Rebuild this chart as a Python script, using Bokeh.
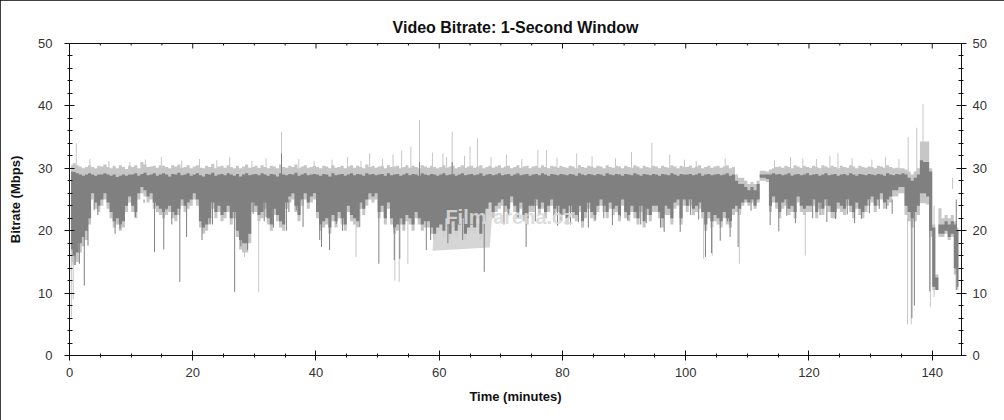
import numpy as np
from bokeh.plotting import figure
from bokeh.models import ColumnDataSource, LinearAxis, SingleIntervalTicker, Range1d, Label
from bokeh.embed import file_html
from bokeh.resources import INLINE

BIN_MIN = 0.5  # each value covers half a minute

# dark grey band (typical range of the 1-second bitrate), Mbps
dark_hi = [
    29.5, 29.4, 29.2, 29.0, 28.8, 29.0, 29.2, 29.0, 28.8, 29.0,
    29.0, 29.2, 29.0, 28.8, 29.0, 28.6, 28.8, 29.0, 28.8, 29.0,
    29.0, 29.2, 28.8, 29.1, 29.3, 28.9, 29.0, 29.2, 28.8, 29.0,
    29.2, 29.0, 28.7, 29.1, 29.0, 29.3, 28.9, 29.0, 29.2, 28.8,
    29.0, 29.2, 28.9, 28.7, 29.1, 29.0, 29.3, 28.8, 29.0, 29.1,
    28.9, 29.2, 29.0, 28.8, 29.1, 28.7, 29.0, 29.2, 28.9, 29.0,
    29.1, 28.9, 29.2, 29.0, 28.8, 29.1, 29.0, 28.7, 29.2, 29.0,
    28.9, 29.1, 29.0, 29.3, 28.8, 29.0, 29.2, 28.9, 29.0, 29.1,
    29.0, 28.8, 29.1, 29.0, 28.7, 29.2, 28.9, 29.0, 29.1, 28.8,
    29.0, 29.2, 28.9, 29.1, 29.0, 28.8, 29.2, 29.0, 29.1, 28.9,
    29.0, 29.1, 28.8, 29.2, 28.9, 29.0, 29.1, 28.8, 29.0, 29.2,
    28.9, 29.1, 29.0, 28.8, 29.2, 29.0, 28.9, 29.1, 29.0, 28.8,
    29.0, 29.2, 28.9, 29.0, 29.1, 28.8, 29.0, 29.2, 28.9, 29.0,
    29.1, 28.9, 29.0, 29.2, 28.8, 29.0, 29.1, 28.9, 29.0, 29.2,
    28.9, 29.0, 29.1, 28.8, 29.0, 29.2, 28.9, 29.0, 29.1, 28.8,
    29.0, 29.1, 28.9, 29.2, 29.0, 28.8, 29.1, 29.0, 28.9, 29.1,
    29.0, 28.9, 29.1, 29.0, 28.8, 29.2, 29.0, 28.9, 29.1, 29.0,
    28.9, 29.1, 29.0, 28.8, 29.2, 29.0, 28.9, 29.1, 29.0, 28.8,
    29.1, 29.0, 28.9, 29.2, 29.0, 28.8, 29.1, 29.0, 28.9, 29.1,
    29.0, 28.8, 29.1, 29.0, 28.9, 29.2, 29.0, 28.8, 29.1, 29.0,
    29.0, 29.1, 28.9, 29.0, 29.2, 28.8, 29.0, 29.1, 28.9, 29.0,
    29.1, 28.9, 29.0, 29.2, 28.8, 29.0, 28.0, 27.5, 27.5, 27.0,
    26.5, 27.0, 26.5, 27.5, 29.0, 29.0, 29.0, 29.0, 29.2, 29.0,
    29.1, 28.9, 29.0, 29.2, 28.8, 29.0, 29.1, 28.9, 29.0, 29.2,
    28.9, 29.0, 29.1, 28.8, 29.0, 29.2, 28.9, 29.0, 29.1, 28.8,
    29.0, 29.1, 28.9, 29.2, 29.0, 28.8, 29.1, 29.0, 28.9, 29.1,
    29.0, 28.9, 29.1, 29.0, 28.8, 29.2, 29.0, 28.9, 29.1, 29.0,
    29.2, 29.0, 28.5, 28.0, 28.5, 29.0, 31.3, 31.0, 31.0, 29.5,
    20.5, 12.5, 21.0, 21.0, 21.5, 21.0, 21.5, 21.0, 20.0,
]
dark_lo = [
    17.0, 16.0, 16.5, 18.0, 19.0, 20.0, 22.0, 26.0, 24.5, 24.0,
    25.0, 26.0, 24.5, 23.0, 21.5, 22.0, 21.0, 21.5, 24.0, 25.5,
    24.0, 23.0, 26.0, 27.0, 26.5, 25.5, 26.0, 24.5, 24.0, 23.5,
    23.0, 23.5, 24.0, 23.0, 22.5, 23.5, 25.0, 24.0, 24.5, 25.0,
    26.0, 25.0, 21.5, 20.5, 21.0, 22.0, 24.5, 23.0, 24.0, 22.5,
    23.0, 24.0, 22.0, 23.0, 20.0, 18.5, 18.0, 18.0, 19.5, 24.5,
    24.0, 22.5, 23.0, 24.5, 22.0, 21.0, 23.5, 22.5, 21.5, 21.0,
    24.5, 25.5, 26.0, 24.0, 22.5, 25.0, 26.0, 24.5, 25.5, 26.0,
    23.0, 21.0, 21.5, 22.0, 20.5, 22.5, 21.5, 23.0, 22.0, 21.0,
    24.0, 22.5, 22.0, 21.5, 24.5, 23.5, 25.0, 26.0, 25.5, 26.0,
    23.0, 24.0, 22.0, 24.5, 22.0, 20.5, 21.0, 22.0, 21.0, 22.5,
    22.0, 21.0, 23.0, 22.0, 21.0, 21.5, 21.5, 20.5, 19.5, 20.5,
    21.0, 20.0, 22.0, 19.5, 21.5, 20.0, 21.0, 22.0, 19.5, 20.5,
    21.0, 20.5, 22.0, 19.5, 21.5, 23.5, 24.5, 23.0, 24.0, 24.5,
    25.0, 24.0, 23.5, 25.5, 24.0, 23.0, 24.5, 22.5, 22.0, 24.0,
    24.0, 25.0, 23.5, 24.5, 23.0, 24.0, 25.0, 23.5, 24.0, 22.5,
    23.5, 22.0, 24.0, 23.0, 22.5, 24.0, 21.5, 23.0, 24.5, 23.0,
    22.5, 24.0, 25.0, 24.0, 23.0, 24.5, 23.5, 24.0, 22.5, 25.0,
    23.0, 22.5, 24.0, 23.0, 22.0, 24.0, 21.5, 23.5, 22.5, 24.0,
    24.0, 23.0, 22.0, 24.0, 23.5, 22.0, 24.5, 25.0, 22.0, 25.0,
    24.0, 25.0, 23.5, 24.0, 24.5, 23.0, 21.0, 23.0, 21.5, 22.5,
    22.0, 21.5, 23.0, 22.0, 21.5, 23.5, 24.0, 23.5, 24.5, 25.0,
    24.5, 25.0, 24.0, 25.0, 28.5, 28.5, 28.3, 24.0, 25.5, 24.5,
    23.0, 24.5, 25.0, 23.5, 24.0, 23.0, 25.5, 24.0, 23.5, 24.0,
    24.0, 25.0, 23.0, 24.5, 23.5, 25.0, 24.0, 23.0, 23.0, 24.5,
    24.0, 23.5, 25.0, 24.0, 23.0, 24.5, 23.5, 23.0, 24.0, 25.0,
    25.5, 24.0, 25.0, 26.0, 24.5, 25.0, 25.5, 26.5, 26.5, 27.0,
    27.0, 24.0, 23.0, 22.0, 23.0, 24.0, 26.0, 26.0, 25.5, 20.0,
    11.0, 10.5, 19.5, 19.5, 20.0, 19.0, 19.5, 14.0, 11.0,
]
# light grey band (peaks around the dark band), Mbps
light_hi = [
    30.5, 30.8, 30.5, 30.3, 30.0, 30.2, 30.5, 30.2, 30.0, 30.4,
    30.3, 30.6, 30.2, 30.0, 30.4, 30.0, 30.5, 30.2, 29.9, 30.4,
    30.2, 30.5, 30.0, 31.0, 30.6, 30.2, 30.3, 30.4, 30.1, 30.5,
    30.4, 30.2, 30.0, 30.5, 30.3, 30.6, 30.1, 30.2, 30.5, 30.0,
    30.3, 30.5, 30.1, 30.0, 30.4, 30.2, 30.7, 30.0, 30.3, 30.4,
    30.1, 30.5, 30.2, 30.0, 30.4, 30.0, 30.3, 30.6, 30.1, 30.2,
    30.4, 30.1, 30.5, 30.2, 30.0, 30.4, 30.3, 30.0, 30.6, 30.2,
    30.1, 30.4, 30.2, 30.6, 30.0, 30.3, 30.5, 30.1, 30.2, 30.4,
    30.2, 30.0, 30.4, 30.3, 30.0, 30.5, 30.1, 30.2, 30.4, 30.0,
    30.3, 30.5, 30.1, 30.4, 30.2, 30.0, 30.6, 30.2, 30.4, 30.1,
    30.3, 30.4, 30.0, 30.5, 30.2, 30.3, 30.4, 30.0, 30.2, 30.5,
    30.1, 30.4, 30.2, 30.0, 30.5, 30.3, 30.1, 30.4, 30.2, 30.0,
    30.2, 30.5, 30.1, 30.3, 30.4, 30.0, 30.2, 30.5, 30.1, 30.3,
    30.4, 30.1, 30.3, 30.5, 30.0, 30.2, 30.4, 30.1, 30.3, 30.5,
    30.1, 30.3, 30.4, 30.0, 30.2, 30.5, 30.1, 30.3, 30.4, 30.0,
    30.3, 30.4, 30.1, 30.5, 30.2, 30.0, 30.4, 30.3, 30.1, 30.4,
    30.2, 30.1, 30.4, 30.3, 30.0, 30.5, 30.2, 30.1, 30.4, 30.3,
    30.1, 30.4, 30.3, 30.0, 30.5, 30.2, 30.1, 30.4, 30.3, 30.0,
    30.4, 30.2, 30.1, 30.5, 30.3, 30.0, 30.4, 30.2, 30.1, 30.4,
    30.3, 30.0, 30.4, 30.2, 30.1, 30.5, 30.3, 30.0, 30.4, 30.2,
    30.2, 30.4, 30.1, 30.3, 30.5, 30.0, 30.2, 30.4, 30.1, 30.3,
    30.4, 30.1, 30.3, 30.5, 30.0, 30.2, 29.0, 28.5, 28.5, 28.0,
    27.5, 27.8, 27.5, 28.0, 29.6, 29.6, 29.5, 29.8, 30.0, 30.2,
    30.3, 30.1, 30.4, 30.2, 30.0, 30.5, 30.3, 30.1, 30.4, 30.2,
    30.1, 30.4, 30.2, 30.0, 30.5, 30.3, 30.1, 30.4, 30.2, 30.0,
    30.4, 30.2, 30.1, 30.5, 30.3, 30.0, 30.4, 30.2, 30.1, 30.3,
    30.2, 30.0, 30.4, 30.3, 30.1, 30.5, 30.2, 30.0, 30.1, 30.0,
    30.0, 29.8, 29.5, 29.0, 29.5, 30.0, 34.3, 34.3, 34.3, 30.0,
    21.0, 13.0, 23.6, 22.0, 22.5, 22.0, 22.5, 21.5, 20.5,
]
light_lo = [
    15.0, 14.5, 15.0, 16.5, 17.5, 18.5, 21.0, 25.0, 23.5, 23.0,
    24.0, 25.0, 23.5, 22.0, 20.5, 21.0, 20.0, 20.5, 23.0, 24.5,
    23.0, 22.0, 25.0, 26.0, 25.5, 24.5, 25.0, 23.5, 23.0, 22.5,
    22.0, 22.5, 23.0, 22.0, 21.5, 22.5, 24.0, 23.0, 23.5, 24.0,
    25.0, 24.0, 20.5, 19.5, 20.0, 21.0, 23.5, 22.0, 23.0, 21.5,
    22.0, 23.0, 21.0, 22.0, 19.0, 17.0, 16.5, 16.5, 18.0, 23.0,
    23.0, 21.5, 22.0, 23.5, 21.0, 20.0, 22.5, 21.5, 20.5, 20.0,
    23.5, 24.5, 25.0, 23.0, 21.5, 24.0, 25.0, 23.5, 24.5, 25.0,
    22.0, 20.0, 20.5, 21.0, 19.5, 21.5, 20.5, 22.0, 21.0, 20.0,
    23.0, 21.5, 21.0, 20.5, 23.5, 22.5, 24.0, 25.0, 24.5, 25.0,
    22.0, 23.0, 21.0, 23.5, 21.0, 19.5, 20.0, 21.0, 20.0, 21.5,
    21.0, 20.0, 22.0, 21.0, 20.0, 20.5, 20.5, 19.5, 18.5, 19.5,
    20.0, 19.0, 21.0, 18.5, 20.5, 19.0, 20.0, 21.0, 18.5, 19.5,
    20.0, 19.5, 21.0, 18.5, 20.5, 22.5, 23.5, 22.0, 23.0, 23.5,
    24.0, 23.0, 22.5, 24.5, 23.0, 22.0, 23.5, 21.5, 21.0, 23.0,
    23.0, 24.0, 22.5, 23.5, 22.0, 23.0, 24.0, 22.5, 23.0, 21.5,
    22.5, 21.0, 23.0, 22.0, 21.5, 23.0, 20.5, 22.0, 23.5, 22.0,
    21.5, 23.0, 24.0, 23.0, 22.0, 23.5, 22.5, 23.0, 21.5, 24.0,
    22.0, 21.5, 23.0, 22.0, 21.0, 23.0, 20.5, 22.5, 21.5, 23.0,
    23.0, 22.0, 20.5, 22.5, 22.5, 21.0, 23.5, 24.0, 21.0, 24.0,
    23.0, 24.0, 22.5, 23.0, 23.5, 22.0, 20.0, 22.0, 20.5, 21.5,
    21.0, 20.5, 22.0, 21.0, 20.5, 22.5, 23.0, 22.5, 24.0, 24.5,
    24.0, 24.5, 23.5, 24.5, 28.0, 28.0, 27.8, 23.0, 24.5, 23.5,
    22.0, 23.5, 24.0, 22.5, 23.0, 22.0, 24.5, 23.0, 22.5, 23.0,
    23.0, 24.0, 22.0, 23.5, 22.5, 24.0, 23.0, 22.0, 22.0, 23.5,
    23.0, 22.5, 24.0, 23.0, 22.0, 23.5, 22.5, 22.0, 23.0, 24.0,
    24.5, 23.0, 24.0, 25.0, 23.5, 24.0, 24.5, 25.5, 25.5, 26.0,
    26.0, 22.5, 21.5, 20.5, 21.5, 22.5, 24.4, 24.4, 24.2, 19.0,
    10.5, 10.5, 19.0, 19.0, 19.5, 18.5, 19.0, 13.0, 10.5,
]

# single-second drops (dark trace): minute, Mbps
drop_dark_min = [0.9, 1.6, 2.4, 3.0, 4.0, 4.6, 7.4, 8.2, 10.7, 12.1, 13.8,
                 15.3, 15.7, 16.6, 17.9, 19.0, 21.5, 22.8, 23.2, 24.9, 26.8, 27.8, 28.9, 29.8,
                 31.6, 31.9, 33.1, 35.2, 35.6, 36.8, 37.9, 40.6, 40.9, 42.2, 43.3, 44.3, 47.1,
                 50.2, 51.1, 52.7, 53.6, 57.9, 58.6, 61.4, 63.8, 67.3,
                 70.5, 71.2, 72.8, 74.1, 75.6, 78.6, 79.2, 81.3, 82.6, 84.2, 85.3,
                 86.7, 88.1, 89.4, 90.6, 92.7, 93.6, 95.9, 96.5, 97.8, 99.1,
                 100.8, 102.1, 103.2, 104.2, 105.6, 106.8, 107.2, 108.5, 110.6,
                 113.7, 115.1, 116.4, 117.8, 120.6, 121.8, 122.9, 124.3, 126.2, 127.4,
                 128.5, 129.8, 131.4, 132.6, 133.5, 136.7, 137.1, 139.6, 143.9]
drop_dark_val = [14.5, 14.7, 11.2, 17.6, 23.3, 22.5, 19.5, 20.3, 22.2, 24.5, 16.6,
                 17.0, 23.3, 21.0, 11.8, 19.0, 18.5, 21.1, 21.0, 23.3, 10.2, 17.5, 16.9, 22.7,
                 21.5, 22.2, 20.5, 20.0, 23.0, 23.3, 20.6, 18.5, 17.4, 16.9, 21.1, 20.0, 20.6,
                 14.7, 22.2, 15.3, 15.5, 16.9, 18.5, 18.0, 18.5, 13.4,
                 21.0, 22.5, 22.0, 17.4, 21.5, 21.5, 20.8, 21.0, 21.4, 20.5, 21.8,
                 22.0, 20.9, 22.3, 21.7, 21.0, 21.2, 20.5, 19.8, 22.0, 19.8,
                 22.5, 21.8, 15.8, 16.4, 18.4, 21.5, 19.0, 17.4, 23.2,
                 20.9, 19.9, 22.4, 21.2, 22.0, 22.5, 21.4, 21.9, 22.6, 21.2,
                 21.9, 22.8, 23.5, 23.5, 22.7, 6.0, 8.0, 10.3, 10.5]
# single-second drops (light trace)
drop_light_min = [0.3, 0.6, 28.4, 30.7, 46.5, 52.8, 53.5, 54.9, 102.9, 104.3,
                  108.7, 119.4, 136.0, 136.6, 139.7, 140.3]
drop_light_val = [6.1, 9.0, 15.8, 10.2, 15.8, 12.0, 11.8, 14.7, 15.5, 16.0,
                  14.7, 16.0, 5.0, 5.0, 7.8, 9.4]
# single-second peaks (light trace)
peak_light_min = [1.1, 3.3, 6.4, 9.8, 12.3, 14.9, 18.2, 21.1, 23.9, 26.0, 29.6, 31.9,
                  34.4, 37.2, 39.7, 42.6, 45.1, 47.3, 48.7, 50.8, 52.5, 53.9, 55.4, 56.8,
                  58.9, 60.6, 61.2, 62.1, 64.1, 65.0, 66.2, 68.4, 70.9, 73.4, 76.0, 77.4,
                  79.1, 82.3, 84.8, 88.6, 91.2, 94.5, 97.4, 99.8, 101.7, 106.4, 114.4,
                  117.0, 119.0, 121.2, 123.4, 124.7, 127.0, 130.2, 132.4, 134.6,
                  136.1, 137.5, 138.5, 143.3]
peak_light_val = [34.0, 31.5, 31.2, 31.0, 31.4, 31.8, 31.2, 31.5, 31.3, 31.8, 31.2, 31.6,
                  35.8, 31.5, 31.2, 31.4, 31.8, 31.2, 32.4, 31.5, 32.2, 32.8, 33.5, 37.7,
                  32.5, 32.4, 31.8, 35.8, 32.0, 33.5, 34.8, 31.8, 32.2, 31.5, 32.9, 32.9,
                  31.7, 32.4, 31.9, 31.6, 32.6, 34.1, 32.2, 31.4, 31.2, 31.6, 31.3,
                  31.8, 31.6, 31.5, 32.0, 32.4, 31.6, 31.4, 31.8, 31.5,
                  35.0, 36.5, 40.3, 26.7]
# single-second peaks (dark trace)
peak_dark_min = [34.4, 56.8, 62.1]
peak_dark_val = [32.4, 31.0, 31.0]

x_tick_interval = 20
x_minor_interval = 5
y_tick_interval = 10
x_max = 144.75
y_max = 50

n = min(len(dark_hi), len(dark_lo), len(light_hi), len(light_lo))
minutes = np.arange(n) * BIN_MIN + BIN_MIN / 2

band = ColumnDataSource(dict(t=minutes, dh=dark_hi[:n], dl=dark_lo[:n],
                             lh=light_hi[:n], ll=light_lo[:n]))

DARK = "#808080"
LIGHT = "#c6c6c6"
INK = "#111111"
FONT = "Liberation Sans"

p = figure(width=1004, height=420, output_backend="svg", toolbar_location=None,
           x_range=Range1d(0, x_max), y_range=Range1d(0, y_max),
           min_border_left=69, min_border_right=43, min_border_top=43, min_border_bottom=65,
           title="Video Bitrate: 1-Second Window")
# thin black frame around the whole picture (drawn inside the element, no layout change)
p.styles = {"outline": "1px solid #000000", "outline-offset": "-1px"}

p.xgrid.visible = False
p.ygrid.visible = False
p.outline_line_color = INK
p.outline_line_alpha = 1.0
p.background_fill_color = "white"
p.border_fill_color = "white"

p.title.text_font = FONT
p.title.text_font_size = "16px"
p.title.text_font_style = "bold"
p.title.text_color = INK
p.title.align = "center"
p.title.offset = -13
p.title.standoff = 16

# light layer
p.varea_step(x="t", y1="ll", y2="lh", step_mode="center", source=band, fill_color=LIGHT)
p.segment(x0=drop_light_min, y0=drop_light_val, x1=drop_light_min, y1=[24] * len(drop_light_min),
          line_color=LIGHT, line_width=1)
p.segment(x0=peak_light_min, y0=[28.5] * len(peak_light_min), x1=peak_light_min, y1=peak_light_val,
          line_color=LIGHT, line_width=1)

# watermark logo box
wm_t = [59.5, 68.8, 68.2, 58.9]
wm_v = [24.0, 25.5, 17.3, 16.8]
p.patch(wm_t, wm_v, fill_color="#d2d2d2", line_color=None, fill_alpha=0.9)

# dark layer
p.varea_step(x="t", y1="dl", y2="dh", step_mode="center", source=band, fill_color=DARK)
p.segment(x0=drop_dark_min, y0=drop_dark_val, x1=drop_dark_min, y1=[25] * len(drop_dark_min),
          line_color=DARK, line_width=1)
p.segment(x0=peak_dark_min, y0=[28.5] * len(peak_dark_min), x1=peak_dark_min, y1=peak_dark_val,
          line_color=DARK, line_width=1)

p.add_layout(Label(x=61.0, y=20.4, text="Film-arena.cz", text_font=FONT, text_font_size="20px",
                   text_font_style="bold", text_color="#dadada", text_alpha=0.9))

# tick marks along the top edge of the frame, pointing inward
top_major = list(range(0, int(x_max) + 1, x_tick_interval))
top_minor = [m for m in range(0, int(x_max) + 1, x_minor_interval) if m % x_tick_interval]
p.ray(x=top_major, y=[y_max] * len(top_major), length=5, length_units="screen",
      angle=-np.pi / 2, line_color=INK, line_width=1)
p.ray(x=top_minor, y=[y_max] * len(top_minor), length=2, length_units="screen",
      angle=-np.pi / 2, line_color=INK, line_width=1)


def style_axis(ax, ticker):
    ax.ticker = ticker
    ax.axis_line_color = INK
    ax.major_tick_line_color = INK
    ax.minor_tick_line_color = INK
    ax.major_label_text_font = FONT
    ax.major_label_text_font_size = "13px"
    ax.major_label_text_color = "#333333"
    ax.axis_label_text_font = FONT
    ax.axis_label_text_font_size = "13px"
    ax.axis_label_text_font_style = "bold"
    ax.axis_label_text_color = INK


xa = p.xaxis[0]
style_axis(xa, SingleIntervalTicker(interval=x_tick_interval, num_minor_ticks=4))
xa.axis_label = "Time (minutes)"
xa.major_tick_in = 5
xa.major_tick_out = 5
xa.minor_tick_in = 2
xa.minor_tick_out = 2
xa.major_label_standoff = 7
xa.axis_label_standoff = 9

ya = p.yaxis[0]
style_axis(ya, SingleIntervalTicker(interval=y_tick_interval, num_minor_ticks=5))
ya.axis_label = "Bitrate (Mbps)"
ya.major_tick_in = 5
ya.major_tick_out = 5
ya.minor_tick_in = 3
ya.minor_tick_out = 2
ya.major_label_standoff = 12
ya.axis_label_standoff = 12

ra = LinearAxis()
style_axis(ra, SingleIntervalTicker(interval=y_tick_interval, num_minor_ticks=5))
ra.major_tick_in = 5
ra.major_tick_out = 5
ra.minor_tick_in = 3
ra.minor_tick_out = 2
ra.major_label_standoff = 6
p.add_layout(ra, "right")

open("out.html", "w").write(file_html(p, INLINE))
